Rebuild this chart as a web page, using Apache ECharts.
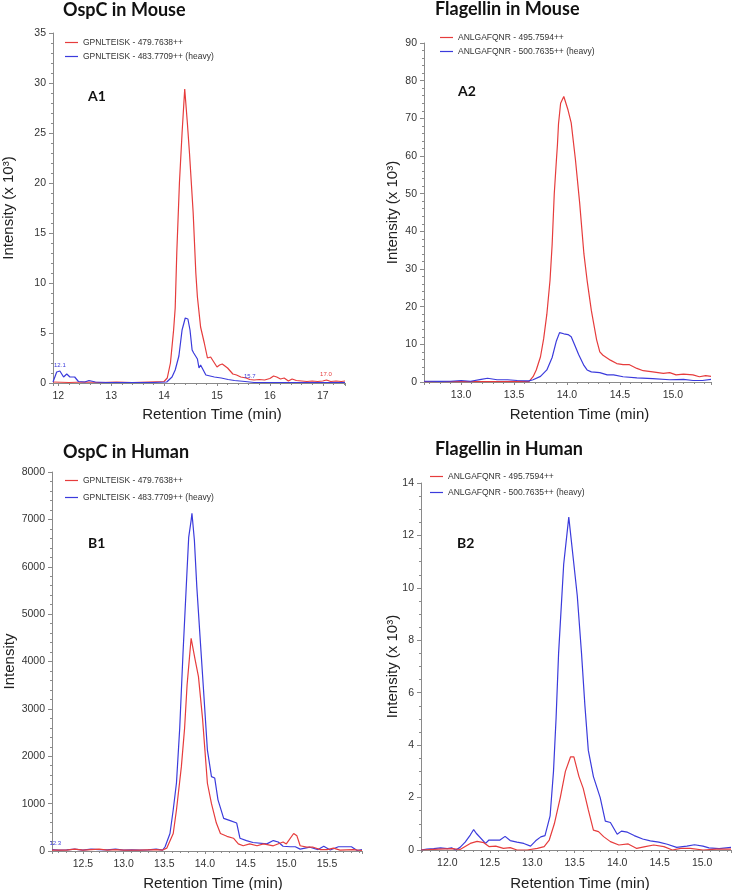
<!DOCTYPE html>
<html>
<head>
<meta charset="utf-8">
<script src="https://cdn.jsdelivr.net/npm/echarts@6/dist/echarts.min.js"></script>
<style>html,body{margin:0;padding:0;background:#fff}#c{width:740px;height:890px}</style>
</head>
<body>
<div id="c"></div>
<script>
// ---------- DATA ----------
const panelTitles = ['OspC in Mouse', 'Flagellin in Mouse', 'OspC in Human', 'Flagellin in Human'];
const panelTags = ['A1', 'A2', 'B1', 'B2'];
const ospcLightName = 'GPNLTEISK - 479.7638++';
const ospcHeavyName = 'GPNLTEISK - 483.7709++ (heavy)';
const flaLightName = 'ANLGAFQNR - 495.7594++';
const flaHeavyName = 'ANLGAFQNR - 500.7635++ (heavy)';
const xAxisTitle = 'Retention Time (min)';
const yTitles = ['Intensity (x 10\u00b3)', 'Intensity (x 10\u00b3)', 'Intensity', 'Intensity (x 10\u00b3)'];

// A1: OspC in Mouse (x 10^3)
const a1LightTime = [11.9,12.2,12.5,12.8,13.1,13.4,13.7,14.0,14.06,14.12,14.18,14.21,14.24,14.29,14.34,14.39,14.44,14.48,14.55,14.6,14.63,14.69,14.76,14.82,14.88,14.94,15.0,15.05,15.1,15.15,15.2,15.25,15.3,15.37,15.45,15.55,15.62,15.7,15.8,15.9,16.0,16.07,16.13,16.2,16.27,16.35,16.42,16.5,16.6,16.7,16.8,16.9,17.0,17.07,17.15,17.25,17.35,17.42];
const a1LightVal  = [0.1,0.05,0.1,0.05,0.1,0.05,0.1,0.15,0.5,2,5.3,7.5,13,20,25,29.4,26,23,17,11,8.6,5.6,4,2.5,2.6,2.1,1.6,1.8,1.9,1.7,1.5,1.2,0.9,0.8,0.6,0.5,0.35,0.3,0.35,0.3,0.45,0.7,0.6,0.4,0.5,0.2,0.4,0.25,0.2,0.15,0.2,0.15,0.2,0.3,0.15,0.2,0.15,0.2];
const a1HeavyTime = [11.9,11.97,12.03,12.1,12.16,12.22,12.31,12.38,12.5,12.58,12.7,12.9,13.2,13.5,13.8,14.05,14.15,14.21,14.28,14.34,14.4,14.45,14.49,14.53,14.56,14.63,14.66,14.69,14.72,14.79,14.95,15.08,15.21,15.33,15.53,15.7,16.0,16.5,17.0,17.42];
const a1HeavyVal  = [0.1,1.1,1.2,0.6,0.9,0.6,0.6,0.15,0.1,0.25,0.1,0.05,0.05,0.05,0.05,0.1,0.6,1.3,2.7,5.3,6.5,6.4,5.3,3.3,3.0,2.4,1.5,1.8,1.8,0.8,0.6,0.5,0.35,0.25,0.15,0.05,0.05,0.05,0.05,0.05];

// A2: Flagellin in Mouse (x 10^3)
const a2LightTime = [12.65,12.8,13.0,13.2,13.4,13.55,13.64,13.68,13.71,13.75,13.78,13.81,13.84,13.86,13.88,13.9,13.91,13.92,13.94,13.97,14.01,14.04,14.08,14.12,14.16,14.19,14.23,14.28,14.31,14.34,14.41,14.47,14.53,14.59,14.66,14.72,14.81,14.91,14.97,15.03,15.1,15.19,15.25,15.31,15.36];
const a2LightVal  = [0.1,0.1,0.1,0.1,0.1,0.15,0.1,1.4,3.2,6.7,11.5,18,27,36.5,50,58.8,63,68.5,74,75.8,72.2,68.8,59,47.5,34,27,19,11.2,8,7.1,5.8,4.9,4.6,4.6,3.6,3.0,2.7,2.3,2.5,1.9,2.1,1.9,1.4,1.7,1.5];
const a2HeavyTime = [12.65,12.8,12.9,13.0,13.09,13.19,13.25,13.34,13.44,13.53,13.64,13.68,13.75,13.81,13.86,13.9,13.93,13.97,14.01,14.04,14.07,14.11,14.16,14.19,14.23,14.31,14.38,14.44,14.53,14.66,14.81,14.97,15.1,15.19,15.28,15.36];
const a2HeavyVal  = [0.2,0.15,0.2,0.4,0.2,0.7,1.0,0.6,0.6,0.4,0.3,0.6,1.5,3.2,6.5,10.9,13.1,12.8,12.6,12,10,7.3,4.4,3.2,2.7,2.5,1.9,1.9,1.4,1.1,0.9,0.6,0.7,0.4,0.4,0.7];

// B1: OspC in Human (counts)
const b1LightTime = [12.12,12.3,12.4,12.5,12.6,12.7,12.8,12.9,13.0,13.2,13.4,13.48,13.53,13.61,13.65,13.71,13.75,13.78,13.83,13.88,13.92,13.97,14.03,14.08,14.14,14.19,14.27,14.35,14.41,14.47,14.55,14.64,14.72,14.84,14.96,15.0,15.09,15.13,15.17,15.25,15.33,15.42,15.5,15.58,15.66,15.82,15.93];
const b1LightVal  = [20,20,40,20,30,40,20,30,20,20,30,20,60,370,870,1780,2600,3500,4490,4030,3680,2800,1430,1000,590,370,310,270,150,110,150,110,150,110,190,150,370,320,110,80,80,30,30,60,20,30,10];
const b1HeavyTime = [12.12,12.2,12.3,12.4,12.5,12.6,12.7,12.8,12.9,13.0,13.1,13.2,13.3,13.4,13.48,13.51,13.57,13.61,13.65,13.69,13.73,13.78,13.8,13.83,13.84,13.87,13.9,13.94,13.98,14.03,14.08,14.12,14.16,14.23,14.31,14.39,14.43,14.51,14.59,14.76,14.84,14.9,14.96,15.05,15.11,15.17,15.29,15.39,15.46,15.54,15.64,15.8,15.87,15.93];
const b1HeavyVal  = [30,20,25,40,20,40,30,25,40,20,25,20,25,40,20,90,370,870,1440,2600,4170,5930,6620,6980,7130,6560,5570,4510,3460,2130,1570,1540,1080,690,640,590,270,220,180,150,220,190,100,90,90,40,80,30,100,20,90,90,10,30];

// B2: Flagellin in Human (x 10^3)
const b2LightTime = [11.69,11.9,12.06,12.15,12.27,12.35,12.43,12.49,12.57,12.66,12.74,12.82,12.94,13.06,13.14,13.2,13.26,13.33,13.39,13.45,13.49,13.55,13.6,13.66,13.72,13.78,13.84,13.92,14.02,14.13,14.23,14.33,14.43,14.55,14.65,14.75,14.86,15.01,15.17,15.34];
const b2LightVal  = [0,0.03,0.05,0.02,0.25,0.33,0.28,0.13,0.15,0.06,0.09,0.0,0.0,0.06,0.13,0.38,1.0,2.0,3.0,3.55,3.55,2.8,2.35,1.53,0.76,0.7,0.51,0.32,0.19,0.23,0.06,0.13,0.19,0.13,0.0,0.06,0.06,0.0,0.03,0.03];
const b2HeavyTime = [11.69,11.76,11.84,11.92,12.0,12.05,12.1,12.15,12.21,12.27,12.31,12.34,12.36,12.45,12.49,12.55,12.62,12.68,12.74,12.82,12.9,12.98,13.04,13.1,13.15,13.21,13.25,13.28,13.31,13.37,13.43,13.49,13.53,13.58,13.62,13.66,13.72,13.8,13.86,13.92,14.0,14.05,14.12,14.2,14.3,14.39,14.49,14.59,14.7,14.82,14.91,15.01,15.08,15.2,15.34];
const b2HeavyVal  = [0,0.03,0.05,0.08,0.05,0.08,0.0,0.1,0.3,0.57,0.78,0.64,0.57,0.25,0.38,0.38,0.38,0.52,0.36,0.3,0.25,0.15,0.35,0.5,0.55,1.3,3.0,5.0,7.5,10.9,12.7,10.9,9.7,7.5,5.5,3.8,2.8,2.0,1.1,1.05,0.6,0.72,0.68,0.55,0.42,0.35,0.3,0.22,0.1,0.15,0.2,0.15,0.08,0.05,0.1];

// peak apex annotations [time, value, text, trace]
const a1Notes = [[12.03, 1.2, '12.1', 'heavy'], [15.62, 0.1, '15.7', 'heavy'], [17.06, 0.3, '17.0', 'light']];
const b1Notes = [[12.16, 40, '12.3', 'heavy']];

// axis ranges / ticks
const xMin = [11.9, 12.65, 12.12, 11.69];
const xMax = [17.42, 15.36, 15.93, 15.34];
const xStep = [1, 0.5, 0.5, 0.5];
const yMax = [35, 90, 8000, 14];
const yStep = [5, 10, 1000, 2];
const yMinorSplit = [5, 5, 5, 4];

// ---------- LAYOUT ----------
const RED = '#e63c3c', BLUE = '#3b3bdc';
const grids = [
  {left: 53, top: 33, width: 292, height: 350, outerBoundsMode: 'none'},
  {left: 424, top: 43, width: 287, height: 339, outerBoundsMode: 'none'},
  {left: 52, top: 472, width: 310, height: 379, outerBoundsMode: 'none'},
  {left: 421, top: 483, width: 310, height: 367, outerBoundsMode: 'none'}
];
const titlePos = [[63, 10], [435, 9], [63, 452], [435, 449]];
const tagPos = [[88, 96], [458, 91], [88, 543], [457, 543]];
const legendPos = [[65, 38], [440, 33], [65, 476], [430, 472]];
const legendGap = [5, 5, 8, 7];
const yNameGap = [37, 24, 35, 21];
const xNameGap = [24, 25, 25, 26];
const xNameShift = [26, 24, 12, 8];

const pairs = (t, v) => t.map((x, i) => [x, v[i]]);
const fmtX = (step) => (v) => {
  const k = v / step;
  if (Math.abs(k - Math.round(k)) > 1e-6) return '';
  return step >= 1 ? String(Math.round(v)) : v.toFixed(1);
};
const fmtY = (v) => String(v);
const lightNames = [ospcLightName, flaLightName, ospcLightName, flaLightName];
const heavyNames = [ospcHeavyName, flaHeavyName, ospcHeavyName, flaHeavyName];
const lightData = [pairs(a1LightTime, a1LightVal), pairs(a2LightTime, a2LightVal), pairs(b1LightTime, b1LightVal), pairs(b2LightTime, b2LightVal)];
const heavyData = [pairs(a1HeavyTime, a1HeavyVal), pairs(a2HeavyTime, a2HeavyVal), pairs(b1HeavyTime, b1HeavyVal), pairs(b2HeavyTime, b2HeavyVal)];
const notes = [a1Notes, [], b1Notes, []];

const tickFont = {fontFamily: 'Liberation Sans', fontSize: 10.5, color: '#333'};
const axisCol = '#8a8a8a';

const xAxis = [], yAxis = [], series = [], legend = [], graphic = [];
for (let i = 0; i < 4; i++) {
  xAxis.push({
    type: 'value', gridIndex: i, min: xMin[i], max: xMax[i],
    minInterval: xStep[i], maxInterval: xStep[i],
    name: xAxisTitle, nameLocation: 'middle', nameGap: xNameGap[i],
    nameTextStyle: {fontFamily: 'Liberation Sans', fontSize: 15, color: '#222', padding: [0, 0, 0, xNameShift[i]]},
    axisLine: {show: true, lineStyle: {color: axisCol, width: 1}},
    axisTick: {show: true, length: 3, lineStyle: {color: axisCol}},
    minorTick: {show: true, splitNumber: 5, length: 2, lineStyle: {color: axisCol}},
    axisLabel: Object.assign({formatter: fmtX(xStep[i]), margin: 8}, tickFont),
    splitLine: {show: false}
  });
  yAxis.push({
    type: 'value', gridIndex: i, min: 0, max: yMax[i], interval: yStep[i],
    name: yTitles[i], nameLocation: 'middle', nameGap: yNameGap[i], nameRotate: 90,
    nameMoveOverlap: false,
    nameTextStyle: {fontFamily: 'Liberation Sans', fontSize: 15, color: '#222'},
    axisLine: {show: true, lineStyle: {color: axisCol, width: 1}},
    axisTick: {show: true, length: 4, lineStyle: {color: axisCol}},
    minorTick: {show: true, splitNumber: yMinorSplit[i], length: 2, lineStyle: {color: axisCol}},
    axisLabel: Object.assign({margin: 7, formatter: fmtY}, tickFont),
    splitLine: {show: false}
  });
  const mk = (which, col) => {
    const d = notes[i].filter(n => n[3] === which).map(n => ({coord: [n[0], n[1]], name: n[2]}));
    if (!d.length) return undefined;
    return {symbol: 'circle', symbolSize: 0, data: d,
      label: {show: true, position: 'top', distance: 3, formatter: '{b}', fontSize: 6, fontFamily: 'Liberation Sans', color: col}};
  };
  series.push({
    name: lightNames[i], type: 'line', xAxisIndex: i, yAxisIndex: i, data: lightData[i],
    symbol: 'none', color: RED, lineStyle: {color: RED, width: 1.2}, z: i >= 2 ? 3 : 2,
    markPoint: mk('light', RED), animation: false
  });
  series.push({
    name: heavyNames[i], type: 'line', xAxisIndex: i, yAxisIndex: i, data: heavyData[i],
    symbol: 'none', color: BLUE, lineStyle: {color: BLUE, width: 1.2}, z: i >= 2 ? 2 : 3,
    markPoint: mk('heavy', BLUE), animation: false
  });
  legend.push({
    data: [lightNames[i], heavyNames[i]], orient: 'vertical', left: legendPos[i][0], top: legendPos[i][1],
    itemWidth: 13, itemHeight: 8, itemGap: legendGap[i], padding: 0, selectedMode: false,
    icon: 'path://M0,3.4 L13,3.4 L13,4.6 L0,4.6 Z',
    textStyle: {fontFamily: 'Liberation Sans', fontSize: 8.5, color: '#333'}
  });
  graphic.push({type: 'text', x: titlePos[i][0], y: titlePos[i][1],
    style: {text: panelTitles[i], font: 'bold 18px Lato', fill: '#111', verticalAlign: 'middle'}});
  graphic.push({type: 'text', x: tagPos[i][0], y: tagPos[i][1],
    style: {text: panelTags[i], font: 'bold 14px Lato', fill: '#111', verticalAlign: 'middle'}});
}

const chart = echarts.init(document.getElementById('c'), null, {renderer: 'canvas'});
chart.setOption({
  animation: false,
  backgroundColor: '#fff',
  grid: grids,
  xAxis, yAxis, series, legend, graphic
});
</script>
</body>
</html>
